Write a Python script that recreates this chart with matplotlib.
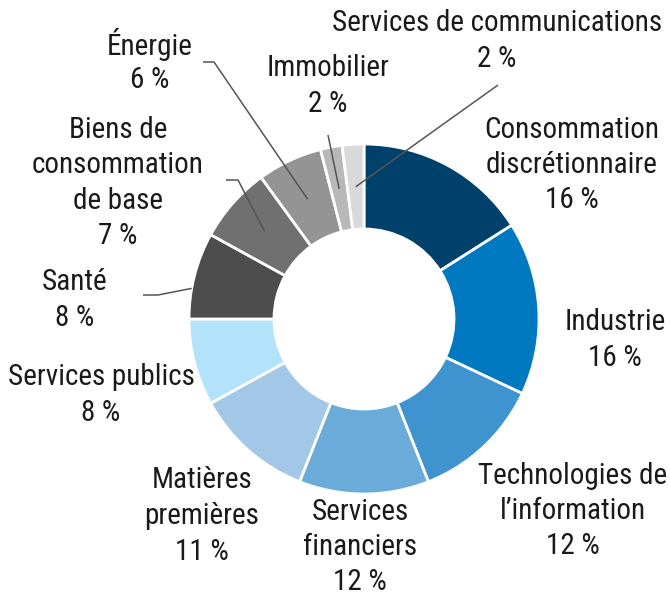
import numpy as np
import matplotlib
matplotlib.use('Agg')
import matplotlib.pyplot as plt
from matplotlib import font_manager

# sector weights, clockwise from 12 o'clock
sectors = ['Consommation\ndiscrétionnaire', 'Industrie', 'Technologies de\nl\u2019information',
           'Services\nfinanciers', 'Matières\npremières', 'Services publics', 'Santé',
           'Biens de\nconsommation\nde base', 'Énergie', 'Immobilier', 'Services de communications']
weights = [16, 16, 12, 12, 11, 8, 8, 7, 6, 2, 2]
pct_labels = [f'{w} %' for w in weights]
colors = ['#00416b', '#0079c1', '#3f93cf', '#6babd9', '#a3c7e6', '#b2e3fa',
          '#4d4d4d', '#707070', '#949494', '#b8b8b8', '#d9d9d9']

names = {f.name for f in font_manager.fontManager.ttflist}
fam = [f for f in ['Roboto Condensed', 'Liberation Sans Narrow', 'Liberation Sans', 'DejaVu Sans'] if f in names]
plt.rcParams['font.family'] = fam

W, H = 670, 598
fig = plt.figure(figsize=(W / 100, H / 100), dpi=100)
ax = fig.add_axes([0, 0, 1, 1])

def py(y):
    return H - y

cx, cy = 364, py(319)
r_out, r_in = 175, 90

wedges, _ = ax.pie(weights, colors=colors, startangle=90, counterclock=False,
                   center=(cx, cy), radius=r_out, frame=True,
                   wedgeprops=dict(width=r_out - r_in, edgecolor='white', linewidth=2))

# label block centres in pixels (x, y)
label_pos = [(572, 165), (615, 340), (573, 511), (360, 547), (202, 516), (101, 395),
             (75, 300), (118, 183), (150, 62), (328, 86), (497, 41)]
line_h = 35.5
for name, pct, (x, y) in zip(sectors, pct_labels, label_pos):
    lines = name.split('\n') + [pct]
    y0 = y - line_h * (len(lines) - 1) / 2
    for k, s in enumerate(lines):
        ax.text(x, py(y0 + k * line_h), s, ha='center', va='center', fontsize=21,
                color='#1a1a1a')

# leader lines: label-side points, then anchor on the wedge (fraction, radius)
r_mid = (r_out + r_in) / 2
leaders = {
    8: ([(203, 62), (214, 62)], 0.5, r_mid),
    9: ([(328, 135)], 0.5, r_mid),
    10: ([(498, 85)], 0.5, r_mid),
    7: ([(226, 180), (238, 180)], 0.5, r_mid),
    6: ([(143, 295), (158, 295)], 0.65, r_out),
}
for i, (pts, f, r) in leaders.items():
    w = wedges[i]
    ang = np.deg2rad(w.theta1 + f * (w.theta2 - w.theta1))
    xs = [p[0] for p in pts] + [cx + r * np.cos(ang)]
    ys = [py(p[1]) for p in pts] + [cy + r * np.sin(ang)]
    ax.plot(xs, ys, color='#555555', lw=1.1, solid_capstyle='butt')

ax.set_xlim(0, W)
ax.set_ylim(0, H)
ax.set_aspect('equal')
ax.axis('off')
fig.savefig('out.png', dpi=100)
